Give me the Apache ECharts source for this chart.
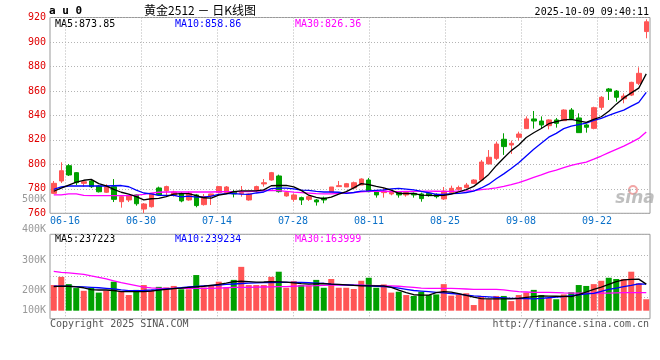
<!DOCTYPE html>
<html><head><meta charset="utf-8">
<script src="https://cdn.jsdelivr.net/npm/echarts@6.0.0/dist/echarts.min.js"></script>
<style>html,body{margin:0;padding:0;background:#fff}#c{width:660px;height:360px}</style>
</head><body><div id="c"></div>
<script>
const dates = ['06-12','06-13','06-16','06-17','06-18','06-19','06-20','06-23','06-24','06-25','06-26','06-27','06-30','07-01','07-02','07-03','07-04','07-07','07-08','07-09','07-10','07-11','07-14','07-15','07-16','07-17','07-18','07-21','07-22','07-23','07-24','07-25','07-28','07-29','07-30','07-31','08-01','08-04','08-05','08-06','08-07','08-08','08-11','08-12','08-13','08-14','08-15','08-18','08-19','08-20','08-21','08-22','08-25','08-26','08-27','08-28','08-29','09-01','09-02','09-03','09-04','09-05','09-08','09-09','09-10','09-11','09-12','09-15','09-16','09-17','09-18','09-19','09-22','09-23','09-24','09-25','09-26','09-29','09-30','10-09'];
const openP = [776.3,786.4,798.9,793.2,784.5,786.4,782.3,777.2,781.7,769.5,770.9,775.0,763.5,765.4,780.7,778.5,774.7,776.3,770.9,775.0,767.1,774.2,776.9,777.0,777.7,776.0,770.9,779.0,784.0,787.2,790.5,774.2,771.4,772.8,771.4,770.9,772.5,777.4,781.8,781.5,780.7,783.1,787.2,777.4,776.9,775.8,776.9,775.0,776.3,775.8,776.3,775.5,771.7,776.9,779.6,781.0,784.5,787.2,800.3,804.9,820.5,815.8,822.1,829.2,837.1,835.4,831.6,836.3,835.7,844.4,837.9,832.2,829.4,846.6,861.6,859.9,853.6,856.6,866.2,908.5];
const closeP = [784.5,794.8,791.3,785.0,785.8,781.7,777.6,781.7,771.4,773.6,774.1,767.8,767.6,776.3,775.0,781.8,777.4,770.1,776.3,766.3,773.6,775.8,781.8,781.5,775.8,776.9,775.8,781.8,785.0,793.2,777.7,776.9,775.0,770.9,773.6,769.3,770.9,781.5,782.6,784.2,785.0,788.0,777.7,775.0,778.2,777.2,775.0,776.9,775.0,772.0,774.4,773.6,778.2,780.4,781.0,783.1,787.2,801.9,805.8,816.6,814.5,817.2,824.8,837.1,835.4,832.2,836.3,833.5,844.4,837.3,825.9,830.3,846.3,854.8,859.7,854.8,855.8,867.0,874.4,916.5];
const lowP = [775.8,784.8,790.5,783.1,781.7,780.7,777.0,776.6,769.2,764.6,769.2,766.2,760.2,764.7,774.2,775.0,773.6,769.0,770.3,764.9,766.3,766.8,776.3,776.3,773.0,773.6,770.3,777.2,781.8,786.7,776.9,773.6,769.5,766.8,770.1,766.3,768.2,777.4,781.8,781.5,780.2,783.1,777.2,772.8,772.8,774.7,772.8,773.6,772.8,769.5,773.6,772.2,770.9,776.3,778.5,780.4,784.0,787.2,800.3,803.6,807.7,808.5,819.4,829.2,829.2,829.4,828.6,830.0,835.4,836.3,825.9,825.9,828.6,844.4,852.6,851.2,849.9,855.8,864.8,903.0];
const highP = [786.4,801.7,800.3,793.7,787.2,788.0,783.1,783.7,788.0,774.1,775.0,775.4,768.4,776.6,781.8,782.6,778.5,777.2,777.7,775.8,775.8,776.0,782.3,782.3,779.0,782.3,776.3,782.6,788.0,793.8,791.6,777.7,776.3,773.6,774.7,771.7,773.6,781.5,786.4,784.8,785.9,788.6,788.9,778.5,780.7,778.5,777.7,777.7,776.9,776.9,777.2,776.3,781.5,782.6,782.6,784.8,787.8,803.6,811.7,818.6,825.4,819.4,826.7,839.2,843.6,839.2,836.8,837.9,845.0,846.0,841.7,833.0,847.1,855.8,862.4,860.7,858.0,867.5,879.3,918.5];
const ma5 = [778.0,780.5,783.0,785.5,787.0,787.7,784.3,782.4,779.6,777.2,775.7,773.7,770.9,771.9,772.2,773.7,775.6,776.1,776.1,774.4,772.7,772.4,774.8,775.8,777.7,778.4,778.4,778.4,779.1,782.5,782.7,782.9,781.6,778.7,774.8,773.1,771.9,773.2,775.6,777.7,780.8,784.3,783.5,782.0,780.8,778.9,776.3,776.2,776.2,774.9,774.7,774.4,774.6,775.7,777.5,779.3,782.0,786.7,791.8,798.9,805.2,811.2,815.8,822.0,825.8,829.3,833.2,834.9,836.4,836.7,835.5,834.3,836.8,838.9,843.4,849.2,854.3,858.4,862.3,873.9];
const ma10 = [779.5,781.5,782.3,782.3,782.3,782.3,782.3,782.3,782.5,782.7,781.7,779.0,776.6,775.8,774.7,774.7,774.7,773.5,774.0,773.3,773.2,774.0,775.4,776.0,776.0,775.6,775.4,776.6,777.4,780.1,780.5,780.6,780.0,778.9,778.7,777.9,777.4,777.4,777.2,776.3,777.0,778.1,778.4,778.8,779.2,779.9,780.3,779.8,779.1,777.9,776.8,775.4,775.4,776.0,776.2,777.0,778.2,780.7,783.8,788.2,792.2,796.6,801.3,806.9,812.4,817.3,822.2,825.3,829.2,831.3,832.4,833.7,835.9,837.6,840.1,842.3,844.3,847.6,850.6,858.9];
const ma30 = [775.0,775.0,775.8,775.8,774.6,774.4,774.4,774.4,774.4,774.4,774.4,774.8,775.5,776.5,777.2,777.4,777.4,777.4,777.4,777.4,777.4,777.4,777.6,777.7,777.7,777.7,777.8,778.2,778.5,778.7,778.5,777.9,777.3,776.9,776.5,776.1,775.8,775.8,776.2,776.6,776.9,777.6,777.9,777.9,778.0,777.8,777.7,777.9,777.9,778.1,778.1,778.0,777.9,777.9,778.1,778.3,778.6,779.3,780.0,780.8,782.0,783.4,785.0,787.2,789.3,791.4,793.6,795.3,797.3,799.1,800.5,801.9,804.2,806.8,809.6,812.2,814.9,817.9,821.2,826.4];
// volume in thousands (K)
const vol = [218,245,221,208,199,209,193,199,229,196,185,202,218,202,212,210,215,204,204,251,210,218,229,210,235,278,218,218,218,245,262,209,231,218,216,235,209,238,209,209,205,232,242,209,220,193,196,185,182,196,185,187,221,183,187,191,152,182,171,182,182,165,185,193,202,185,176,171,187,194,218,215,221,232,242,238,238,262,224,171];
const volMa5 = [213,214.5,214,212,209,203,201.6,201.6,200,196,196,196,196,198,201,203.5,206,207.5,210,212,214,217,220,224,229.5,230.5,229,227.5,228,229,228.5,227.5,225,222.5,221,222,223,221,220,218.5,217,215,215,215,215,210,201,193,186,185,185,193,196,194.5,190,184,178,173,172,172,172,172,174,177,180,182,181.5,181,180.5,180,186,195,204,211,220,229,235,237,237.5,221];
const volMa10 = [214.5,214,213.5,213,212,210.5,209,207,205,202,199.5,199.5,200.5,201.6,203,205,207,209.5,211.5,213.5,215,216.5,218,220,221.5,223,224,225,225.7,226.3,227,227,227,226.5,225.5,224.5,223.5,221,219.5,218.5,217.5,217,215.5,214,212.5,211,208,204,200,198,196,194,192,190,188,185,182.5,180.5,179,177,175.5,174,173.5,173,172,174,176,178,180,183,186,188.5,190.7,197,204,208,212.5,217,222,221];
const volMa30 = [263,260,258,255.5,253,248,243.5,238,232,226,221,216,211,208.5,207,207,207,207,207,207,207,207,208,209,210,210.5,210.5,211,211.5,212,212.5,213,214,215,215.5,216,217,218,218,218,218,218,217,216,215,215,214,212,210,208,207,207,207,207,206,205,204,204,204,204,202,199,196,195,194,194,193.5,193,192,191.5,191,191,191,191,191,192,193,193,193,193];
const xTickLabels = ['06-16','06-30','07-14','07-28','08-11','08-25','09-08','09-22'];
const volTickValues = [133.3,200,300,400,500];
const volTickLabels = ['100K','200K','300K','400K','500K'];
const priceMaText = ['MA5:873.85','MA10:858.86','MA30:826.36'];
const volMaText = ['MA5:237223','MA10:239234','MA30:163999'];

const RED = '#ff5555', GREEN = '#00a000';
const MONO = '"DejaVu Sans Mono", monospace';
const DOT = {color:'#b4b4b4', width:1, type:[1,2]};
const candles = openP.map((o,i)=>[o, closeP[i], lowP[i], highP[i]]);
const noAx = {show:false};
const hideParts = {axisLine:{show:false}, axisTick:{show:false}};

const chart = echarts.init(document.getElementById('c'), null, {renderer:'canvas'});
const gridBase = {containLabel:false, outerBoundsMode:'none'};
const txt = (text, x, y, fill, opts) => Object.assign({type:'text', silent:true, style:Object.assign({text, x, y, fill, font:'10px '+MONO, textAlign:'left', textVerticalAlign:'middle'}, opts||{})});
chart.setOption({
  animation:false,
  backgroundColor:'#fff',
  grid:[
    Object.assign({left:50, top:17.5, width:600, height:195.8, show:true, borderColor:'#999', borderWidth:1, backgroundColor:'transparent'}, gridBase),
    Object.assign({left:65, top:17.5, width:532, height:195.8, show:false}, gridBase),
    Object.assign({left:50, top:234.3, width:600, height:84.4, show:true, borderColor:'#999', borderWidth:1, backgroundColor:'transparent'}, gridBase),
    Object.assign({left:65, top:234.3, width:532, height:84.4, show:false}, gridBase),
    Object.assign({left:50, top:199.6, width:600, height:111.1, show:false}, gridBase)
  ],
  xAxis:[
    Object.assign({type:'category', gridIndex:0, data:dates, boundaryGap:true, axisLabel:{show:false}, splitLine:{show:false}}, hideParts),
    Object.assign({type:'value', gridIndex:1, min:0, max:532, interval:76, position:'bottom',
      axisLabel:{color:'#0a70c8', fontSize:10, fontFamily:MONO, margin:3, showMinLabel:true, showMaxLabel:true,
        formatter:v=>xTickLabels[Math.round(v/76)]||''},
      splitLine:{show:true, lineStyle:DOT}}, hideParts),
    Object.assign({type:'value', gridIndex:2, min:0, max:1, show:false}),
    Object.assign({type:'value', gridIndex:3, min:0, max:532, interval:76, axisLabel:{show:false}, splitLine:{show:true, lineStyle:DOT}}, hideParts),
    Object.assign({type:'category', gridIndex:4, data:dates, boundaryGap:true, show:false})
  ],
  yAxis:[
    Object.assign({type:'value', gridIndex:0, min:760, max:920, interval:20, position:'left',
      axisLabel:{color:'#e00000', fontSize:10, fontFamily:MONO, margin:4},
      splitLine:{show:true, lineStyle:DOT}}, hideParts),
    Object.assign({type:'value', gridIndex:1, min:0, max:1, show:false}),
    Object.assign({type:'value', gridIndex:2, min:0, max:4, interval:1, axisLabel:{show:false}, splitLine:{show:true, lineStyle:DOT}}, hideParts),
    Object.assign({type:'value', gridIndex:3, min:0, max:1, show:false}),
    Object.assign({type:'value', gridIndex:4, min:volTickValues[0], max:volTickValues[volTickValues.length-1], position:'left',
      axisLabel:{color:'#999', fontSize:10, fontFamily:MONO, margin:4, customValues:volTickValues,
        formatter:v=>{const k=volTickValues.indexOf(v); return k>=0?volTickLabels[k]:'';}},
      splitLine:{show:false}}, hideParts)
  ],
  series:[
    {type:'candlestick', xAxisIndex:0, yAxisIndex:0, data:candles, barWidth:5,
      itemStyle:{color:RED, color0:GREEN, borderColor:RED, borderColor0:GREEN, borderWidth:1}, z:2},
    {type:'line', xAxisIndex:0, yAxisIndex:0, data:ma30, showSymbol:false, symbol:'none', lineStyle:{color:'#ff00ff', width:1.3}, itemStyle:{color:'#ff00ff'}, z:3},
    {type:'line', xAxisIndex:0, yAxisIndex:0, data:ma10, showSymbol:false, symbol:'none', lineStyle:{color:'#0000ff', width:1.3}, itemStyle:{color:'#0000ff'}, z:3},
    {type:'line', xAxisIndex:0, yAxisIndex:0, data:ma5, showSymbol:false, symbol:'none', lineStyle:{color:'#000', width:1.3}, itemStyle:{color:'#000'}, z:4},
    {type:'bar', xAxisIndex:4, yAxisIndex:4, data:vol, barWidth:6,
      itemStyle:{color:p=>closeP[p.dataIndex]>=openP[p.dataIndex]?RED:GREEN}, z:2},
    {type:'line', xAxisIndex:4, yAxisIndex:4, data:volMa30, showSymbol:false, symbol:'none', lineStyle:{color:'#ff00ff', width:1.3}, z:3},
    {type:'line', xAxisIndex:4, yAxisIndex:4, data:volMa10, showSymbol:false, symbol:'none', lineStyle:{color:'#0000ff', width:1.3}, z:3},
    {type:'line', xAxisIndex:4, yAxisIndex:4, data:volMa5, showSymbol:false, symbol:'none', lineStyle:{color:'#000', width:1.3}, z:4}
  ],
  graphic:[
    txt('a u 0', 49, 11, '#000', {font:'bold 11px '+MONO}),
    txt('黄金2512 － 日K线图', 200, 10, '#000', {font:'12px "Noto Sans CJK SC", sans-serif', textAlign:'center'}),
    txt('2025-10-09 09:40:11', 649, 12, '#000', {textAlign:'right'}),
    txt(priceMaText[0], 55, 24, '#000'),
    txt(priceMaText[1], 175, 24, '#0000ff'),
    txt(priceMaText[2], 295, 24, '#ff00ff'),
    txt(volMaText[0], 55, 239, '#000'),
    txt(volMaText[1], 175, 239, '#0000ff'),
    txt(volMaText[2], 295, 239, '#ff00ff'),
    txt('Copyright 2025 SINA.COM', 50, 324, '#555'),
    txt('http://finance.sina.com.cn', 649, 324, '#555', {textAlign:'right'}),
    {type:'circle', silent:true, shape:{cx:633, cy:190, r:4}, style:{fill:'none', stroke:'#f2a6a6', lineWidth:2}},
    txt('sina', 635, 199, 'rgba(170,170,170,0.75)', {font:'italic bold 17px "DejaVu Sans", sans-serif', textAlign:'center'})
  ]
});
</script></body></html>
